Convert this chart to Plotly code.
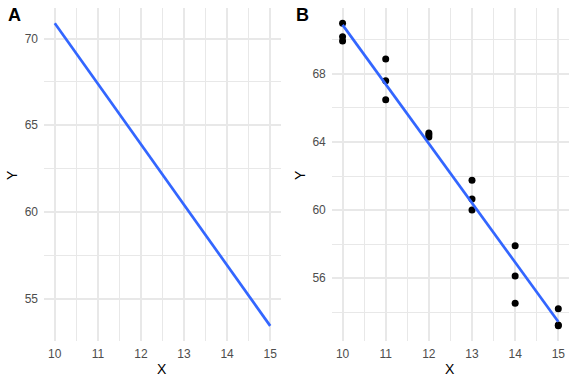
import numpy as np
import plotly.graph_objects as go

# Data
x_vals = [10, 10, 10, 11, 11, 11, 12, 12, 12, 13, 13, 13, 14, 14, 14, 15, 15, 15]
y_vals = [70.98, 70.18, 69.93, 68.88, 67.60, 66.48, 64.53, 64.43, 64.29,
          61.76, 60.65, 60.00, 57.90, 56.13, 54.53, 54.20, 53.25, 53.20]
x_ticks = [10, 11, 12, 13, 14, 15]
yA_ticks = [55, 60, 65, 70]
yB_ticks = [56, 60, 64, 68]
panel_labels = ["A", "B"]

slope, intercept = np.polyfit(x_vals, y_vals, 1)
x_line = [min(x_vals), max(x_vals)]
y_line = [intercept + slope * v for v in x_line]


def expand(lo, hi, f=0.05):
    d = (hi - lo) * f
    return [lo - d, hi + d]


xr = expand(min(x_vals), max(x_vals))
yA = expand(min(y_line), max(y_line))
yB = expand(min(y_vals + y_line), max(y_vals + y_line))

BLUE = "#3366FF"
GRID = "#E8E8E8"
FONT = "Liberation Sans, Arial, sans-serif"

fig = go.Figure()
fig.add_trace(go.Scatter(x=x_line, y=y_line, mode="lines",
                         line=dict(color=BLUE, width=2.7),
                         xaxis="x", yaxis="y", showlegend=False))
fig.add_trace(go.Scatter(x=x_vals, y=y_vals, mode="markers",
                         marker=dict(color="black", size=7),
                         xaxis="x2", yaxis="y2", showlegend=False))
fig.add_trace(go.Scatter(x=x_line, y=y_line, mode="lines",
                         line=dict(color=BLUE, width=2.7),
                         xaxis="x2", yaxis="y2", showlegend=False))

common_x = dict(range=xr, tickvals=x_ticks, showgrid=True, gridcolor=GRID,
                gridwidth=1.8, zeroline=False, showline=False, ticks="",
                automargin=False,
                tickfont=dict(size=12, color="#4D4D4D", family=FONT),
                ticklabelstandoff=4,
                minor=dict(dtick=0.5, tick0=0, showgrid=True, gridcolor=GRID,
                           gridwidth=1))
common_y = dict(showgrid=True, gridcolor=GRID, gridwidth=1.8, zeroline=False,
                showline=False, ticks="", automargin=False,
                tickfont=dict(size=12, color="#4D4D4D", family=FONT),
                ticklabelstandoff=5)

fig.update_layout(
    width=576, height=384,
    margin=dict(l=0, r=0, t=0, b=0),
    paper_bgcolor="white", plot_bgcolor="white",
    font=dict(family=FONT),
    xaxis=dict(domain=[0.0764, 0.4878], anchor="y", **common_x),
    xaxis2=dict(domain=[0.576, 0.988], anchor="y2", **common_x),
    yaxis=dict(domain=[0.112, 0.979], anchor="x", range=yA, tickvals=yA_ticks,
               minor=dict(dtick=2.5, tick0=0, showgrid=True, gridcolor=GRID,
                          gridwidth=1),
               **common_y),
    yaxis2=dict(domain=[0.112, 0.979], anchor="x2", range=yB, tickvals=yB_ticks,
                minor=dict(dtick=2, tick0=0, showgrid=True, gridcolor=GRID,
                           gridwidth=1),
                **common_y),
)

annots = [
    dict(text="<b>" + panel_labels[0] + "</b>", x=6 / 576, y=1 - 15 / 384),
    dict(text="<b>" + panel_labels[1] + "</b>", x=294 / 576, y=1 - 15 / 384),
]
for a in annots:
    fig.add_annotation(xref="paper", yref="paper", xanchor="left", yanchor="middle",
                       showarrow=False, font=dict(size=18, color="black", family=FONT), **a)

for xc in [162, 450]:
    fig.add_annotation(text="X", xref="paper", yref="paper", x=xc / 576, y=1 - 369 / 384,
                       showarrow=False, xanchor="center", yanchor="middle",
                       font=dict(size=14, color="black", family=FONT))
for xc in [12, 300]:
    fig.add_annotation(text="Y", xref="paper", yref="paper", x=xc / 576, y=1 - 175 / 384,
                       showarrow=False, xanchor="center", yanchor="middle", textangle=-90,
                       font=dict(size=14, color="black", family=FONT))

fig.write_html("out.html", config={"displayModeBar": False},
               post_script="document.body.style.margin='0';document.body.style.padding='0';")
